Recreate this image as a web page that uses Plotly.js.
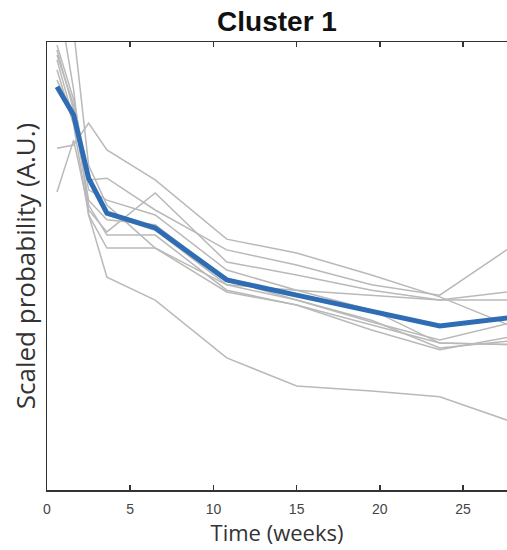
<!DOCTYPE html>
<html>
<head>
<meta charset="utf-8">
<script src="https://cdn.plot.ly/plotly-3.0.1.min.js"></script>
<style>html,body{margin:0;padding:0;background:#fff}#chart{width:507px;height:550px}</style>
</head>
<body>
<div id="chart"></div>
<script>
// Time points (weeks)
const weeks = [0.6, 1.6, 2.5, 3.6, 6.5, 10.8, 15.0, 19.5, 23.6, 28.5];

// Individual profiles (scaled probability, A.U.)
const profile1  = [0.993, 0.871, 0.692, 0.614, 0.580, 0.458, 0.424, 0.379, 0.317, 0.335];
const profile2  = [0.982, 0.848, 0.636, 0.569, 0.569, 0.446, 0.413, 0.368, 0.328, 0.324];
const profile3  = [0.763, 0.770, 0.819, 0.759, 0.692, 0.560, 0.529, 0.480, 0.431, 0.357];
const profile4  = [0.665, 0.781, 0.625, 0.576, 0.663, 0.509, 0.480, 0.446, 0.424, 0.446];
const profile5  = [0.960, 0.826, 0.692, 0.696, 0.625, 0.536, 0.502, 0.458, 0.435, 0.558];
const profile6  = [1.049, 1.027, 0.725, 0.636, 0.540, 0.442, 0.413, 0.357, 0.313, 0.346];
const profile7  = [0.938, 0.815, 0.614, 0.540, 0.540, 0.458, 0.446, 0.435, 0.424, 0.424];
const profile8  = [1.116, 0.893, 0.614, 0.475, 0.424, 0.295, 0.232, 0.221, 0.208, 0.145];
const profile9  = [0.915, 0.837, 0.647, 0.603, 0.592, 0.469, 0.424, 0.375, 0.335, 0.379];
const profile10 = [0.971, 0.859, 0.670, 0.647, 0.614, 0.491, 0.446, 0.402, 0.328, 0.324];
const profiles = [profile1, profile2, profile3, profile4, profile5, profile6, profile7, profile8, profile9, profile10];

// Cluster mean
const clusterMean = [0.900, 0.837, 0.696, 0.618, 0.585, 0.469, 0.435, 0.400, 0.366, 0.388];

// Axis ticks
const xTicks = [0, 5, 10, 15, 20, 25];
const xTickLabels = ['0', '5', '10', '15', '20', '25'];

const traces = profiles.map(p => ({
  x: weeks, y: p, type: 'scatter', mode: 'lines',
  line: {color: '#b9b9b9', width: 1.5}, hoverinfo: 'skip'
}));
traces.push({
  x: weeks, y: clusterMean, type: 'scatter', mode: 'lines',
  line: {color: '#2e6db4', width: 5}
});

const layout = {
  width: 507, height: 550,
  margin: {l: 47, r: 0, t: 42, b: 60},
  paper_bgcolor: '#fff', plot_bgcolor: '#fff',
  showlegend: false,
  title: {
    text: '<b>Cluster 1</b>',
    font: {family: 'Liberation Sans, Arial, sans-serif', size: 28, color: '#111'},
    x: 0.5, xref: 'paper', xanchor: 'center',
    y: 23, yref: 'container', yanchor: 'middle'
  },
  xaxis: {
    range: [0, 27.64], tickvals: xTicks, ticktext: xTickLabels,
    ticks: 'inside', ticklen: 5, tickwidth: 1.5, tickcolor: '#333',
    showline: true, linecolor: '#333', linewidth: 1.5, mirror: 'ticks',
    showgrid: false, zeroline: false, ticklabelstandoff: 6,
    tickfont: {family: 'Liberation Sans, Arial, sans-serif', size: 14, color: '#444'},
    title: {text: 'Time (weeks)', font: {family: 'Open Sans, sans-serif', size: 22, color: '#333'}, standoff: 8}
  },
  yaxis: {
    range: [0, 1], showticklabels: false, ticks: '',
    showline: true, linecolor: '#333', linewidth: 1.5, mirror: true,
    showgrid: false, zeroline: false,
    title: {text: 'Scaled probability (A.U.)', font: {family: 'Open Sans, sans-serif', size: 26, color: '#333'}, standoff: 2}
  }
};

Plotly.newPlot('chart', traces, layout, {staticPlot: true, displayModeBar: false});
</script>
</body>
</html>
